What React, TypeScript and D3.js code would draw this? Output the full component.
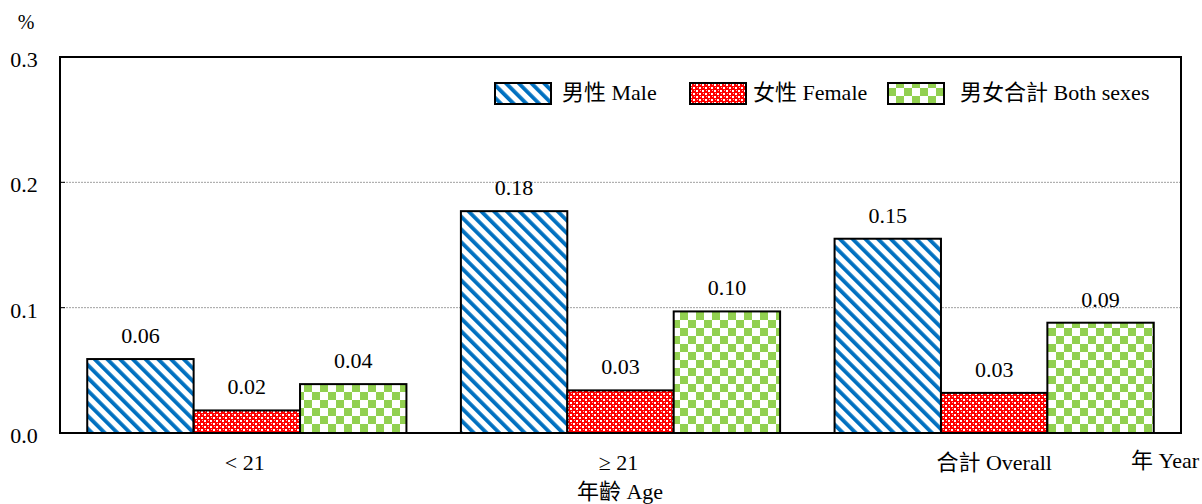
import React from "react";
import * as d3 from "d3";

const categories = ["< 21", "≥ 21", "合計 Overall"];
const seriesNames = ["男性 Male", "女性 Female", "男女合計 Both sexes"];
const maleValues = [0.059, 0.177, 0.155];
const femaleValues = [0.018, 0.034, 0.032];
const bothValues = [0.039, 0.097, 0.088];
const valueLabels = [
  ["0.06", "0.18", "0.15"],
  ["0.02", "0.03", "0.03"],
  ["0.04", "0.10", "0.09"],
];
const yTicks = [0, 0.1, 0.2, 0.3];

const W = 1202;
const H = 504;
const left = 60;
const right = 1181;
const top = 57;
const bottom = 433;
const font = '"Liberation Serif", "Times New Roman", "DejaVu Serif", "Noto Sans CJK TC", serif';

export default function App() {
  React.useEffect(() => {
    document.body.style.margin = "0";
    document.body.style.overflow = "hidden";
  }, []);
  const series = [maleValues, femaleValues, bothValues];
  const fills = ["url(#pMale)", "url(#pFemale)", "url(#pBoth)"];
  const x0 = d3.scaleBand<string>().domain(categories).range([left, right]).paddingInner(0).paddingOuter(0);
  const x1 = d3
    .scaleBand<number>()
    .domain([0, 1, 2])
    .range([0, x0.bandwidth()])
    .paddingOuter(0.256)
    .paddingInner(0);
  const y = d3.scaleLinear().domain([0, 0.3]).range([bottom, top]);

  const legendX = [495, 690, 888];
  const legendTextX = [562, 753, 960];
  const fs = 22;

  return (
    <div style={{ position: "absolute", left: 0, top: 0, width: W, height: H, overflow: "hidden" }}>
      <svg width={W} height={H} style={{ display: "block", fontFamily: font }}>
        <defs>
          <pattern id="pMale" width={9} height={9} patternUnits="userSpaceOnUse" patternTransform="rotate(-45)">
            <rect width={9} height={9} fill="#fff" />
            <rect width={3.8} height={9} fill="#0070C0" />
          </pattern>
          <pattern id="pFemale" width={6} height={6} patternUnits="userSpaceOnUse">
            <rect width={6} height={6} fill="#FF0000" />
            <rect x={0} y={0} width={2} height={2} fill="#fff" />
            <rect x={3} y={3} width={2} height={2} fill="#fff" />
            <rect x={1} y={3} width={1} height={1} fill="#ffb0b0" />
            <rect x={4} y={0} width={1} height={1} fill="#ffb0b0" />
          </pattern>
          <pattern id="pBoth" width={16} height={16} patternUnits="userSpaceOnUse">
            <rect width={16} height={16} fill="#fff" />
            <rect x={0} y={0} width={8} height={8} fill="#92D050" />
            <rect x={8} y={8} width={8} height={8} fill="#92D050" />
          </pattern>
        </defs>

        {/* gridlines */}
        {yTicks
          .filter((t) => t > 0 && t < 0.3)
          .map((t) => (
            <line key={t} x1={left} x2={right} y1={y(t)} y2={y(t)} stroke="#888" strokeWidth={0.8} strokeDasharray="2,1" />
          ))}

        {/* bars */}
        {categories.map((c, ci) => (
          <g key={c}>
            {series.map((vals, si) => {
              const bx = (x0(c) as number) + (x1(si) as number);
              const bw = x1.bandwidth();
              const by = y(vals[ci]);
              return (
                <g key={si}>
                  <rect x={bx} y={by} width={bw} height={bottom - by} fill={fills[si]} stroke="#000" strokeWidth={2} />
                  <text x={bx + bw / 2} y={by - 16} textAnchor="middle" fontSize={fs} fill="#000">
                    {valueLabels[si][ci]}
                  </text>
                </g>
              );
            })}
          </g>
        ))}

        {/* frame */}
        <rect x={left} y={top} width={right - left} height={bottom - top} fill="none" stroke="#000" strokeWidth={2} />

        {/* y ticks */}
        {yTicks.map((t) => (
          <g key={t}>
            <line x1={left} x2={left + 5} y1={y(t)} y2={y(t)} stroke="#000" strokeWidth={1} />
            <text x={24} y={y(t) + 10} textAnchor="middle" fontSize={fs} fill="#000">
              {t.toFixed(1)}
            </text>
          </g>
        ))}
        <text x={26} y={29} textAnchor="middle" fontSize={20} fill="#000">
          %
        </text>

        {/* x category labels */}
        {categories.map((c, ci) => (
          <text
            key={c}
            x={(x0(c) as number) + x0.bandwidth() / 2 - (ci === 2 ? 0 : 2)}
            y={470}
            textAnchor="middle"
            fontSize={fs}
            fill="#000"
          >
            {c}
          </text>
        ))}
        <text x={1199} y={468} textAnchor="end" fontSize={fs} fill="#000">
          年 Year
        </text>
        <text x={620} y={499} textAnchor="middle" fontSize={fs} fill="#000">
          年齡 Age
        </text>

        {/* legend */}
        {seriesNames.map((s, i) => (
          <g key={s}>
            <rect x={legendX[i]} y={83} width={56} height={21} fill={fills[i]} stroke="#000" strokeWidth={2} />
            <text x={legendTextX[i]} y={100} fontSize={fs} fill="#000">
              {s}
            </text>
          </g>
        ))}
      </svg>
    </div>
  );
}
